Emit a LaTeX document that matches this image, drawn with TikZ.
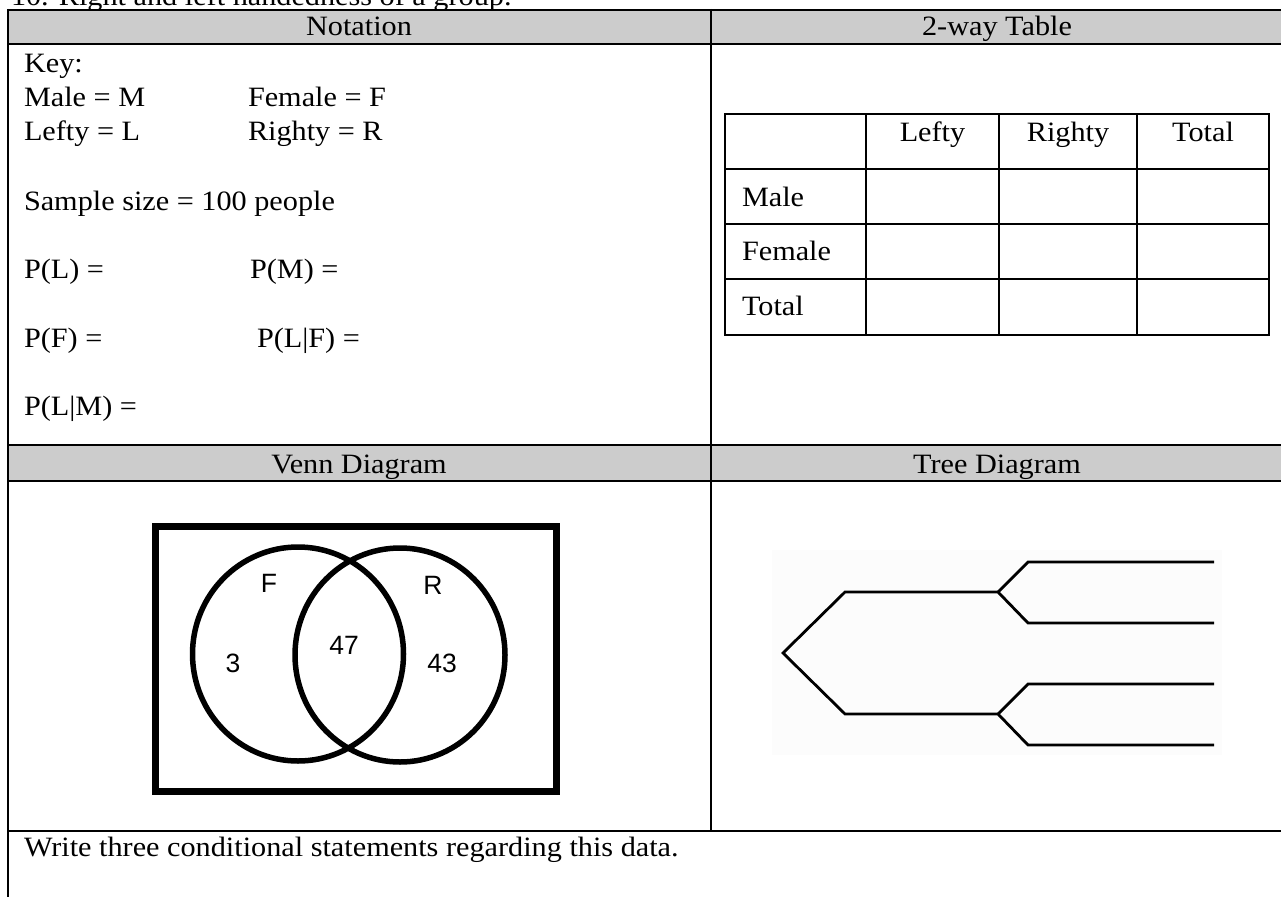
\documentclass[tikz,border=0pt]{standalone}
\usepackage{fontspec}
\setmainfont{Liberation Serif}[FakeStretch=1.08]
\newfontfamily\arialf{Liberation Sans}
\definecolor{hdrgray}{RGB}{204,204,204}
\definecolor{treebg}{RGB}{252,252,252}
\begin{document}
\begin{tikzpicture}[x=1pt,y=-1pt,line width=2pt,
  body/.style={font=\fontsize{28}{34}\selectfont, inner sep=0pt},
  lt/.style={body, anchor=base west},
  ct/.style={body, anchor=base},
  vlabel/.style={font=\arialf\fontsize{26.5}{30}\selectfont, inner sep=0pt, anchor=base},
  rule/.style={line width=2pt},
  treeline/.style={line width=2.8pt},
  vennbox/.style={line width=7pt},
  venncirc/.style={line width=5.5pt}]
\useasboundingbox (0,0) rectangle (1281,896);
\clip (0,0) rectangle (1281,896);
% cut-off title
\node[lt] (title) at (10,6) {10. Right and left handedness of a group.};
% header fills
\fill[hdrgray] (7.5,10) rectangle (1283,44);
\fill[hdrgray] (7.5,445) rectangle (1283,481);
% frame rules
\draw[rule] (7.5,10) -- (1283,10);
\draw[rule] (7.5,44) -- (1283,44);
\draw[rule] (7.5,445) -- (1283,445);
\draw[rule] (7.5,481) -- (1283,481);
\draw[rule] (7.5,831) -- (1283,831);
\draw[rule] (7.5,9) -- (7.5,900);
\draw[rule] (711,9) -- (711,831);
\draw[rule] (1283,9) -- (1283,900);
% headers
\node[ct] (hnot) at (359,36) {Notation};
\node[ct] (htab) at (997,36) {2-way Table};
\node[ct] (hven) at (359,473) {Venn Diagram};
\node[ct] (htree) at (997,473) {Tree Diagram};
% notation text
\node[lt] (key) at (23,73) {Key:};
\node[lt] (male) at (23,107) {Male = M};
\node[lt] (female) at (247,107) {Female = F};
\node[lt] (lefty) at (23,141) {Lefty = L};
\node[lt] (righty) at (247,141) {Righty = R};
\node[lt] (sample) at (23,210) {Sample size = 100 people};
\node[lt] (pl) at (23,278) {P(L) =};
\node[lt] (pm) at (249,278) {P(M) =};
\node[lt] (pf) at (23,347) {P(F) =};
\node[lt] (plf) at (256,347) {P(L|F) =};
\node[lt] (plm) at (23,415) {P(L|M) =};
% two-way table
\draw[rule] (725,114) rectangle (1269,335);
\foreach \yy in {169,224,279} \draw[rule] (725,\yy) -- (1269,\yy);
\foreach \xx in {866,999,1137} \draw[rule] (\xx,114) -- (\xx,335);
\node[ct] (cl) at (932.5,142) {Lefty};
\node[ct] (cr) at (1068,142) {Righty};
\node[ct] (ctot) at (1203,142) {Total};
\node[lt] (rm) at (741,206) {Male};
\node[lt] (rf) at (741,260) {Female};
\node[lt] (rt) at (741,315) {Total};
% Venn diagram
\draw[vennbox] (155,526) rectangle (556,791);
\draw[venncirc] (298,654) ellipse [x radius=105.5pt, y radius=107pt];
\draw[venncirc] (400,655) ellipse [x radius=105pt, y radius=107pt];
\node[vlabel] (vf) at (269,592) {F};
\node[vlabel] (vr) at (433,594) {R};
\node[vlabel] (v3) at (233,672) {3};
\node[vlabel] (v47) at (344,654) {47};
\node[vlabel] (v43) at (442,672) {43};
% tree diagram
\fill[treebg] (772,550) rectangle (1222,755);
\coordinate (root) at (783,653);
\coordinate (ua) at (845,592);
\coordinate (ub) at (998,592);
\coordinate (la) at (845,714);
\coordinate (lb) at (998,714);
\coordinate (u1a) at (1028,562);
\coordinate (u1b) at (1214,562);
\coordinate (u2a) at (1028,623);
\coordinate (u2b) at (1214,623);
\coordinate (l1a) at (1028,684);
\coordinate (l1b) at (1214,684);
\coordinate (l2a) at (1028,745);
\coordinate (l2b) at (1214,745);
\draw[treeline] (ub) -- (ua) -- (root) -- (la) -- (lb);
\draw[treeline] (u1b) -- (u1a) -- (ub) -- (u2a) -- (u2b);
\draw[treeline] (l1b) -- (l1a) -- (lb) -- (l2a) -- (l2b);
% bottom row
\node[lt] (write) at (23,856) {Write three conditional statements regarding this data.};
\end{tikzpicture}
\end{document}
